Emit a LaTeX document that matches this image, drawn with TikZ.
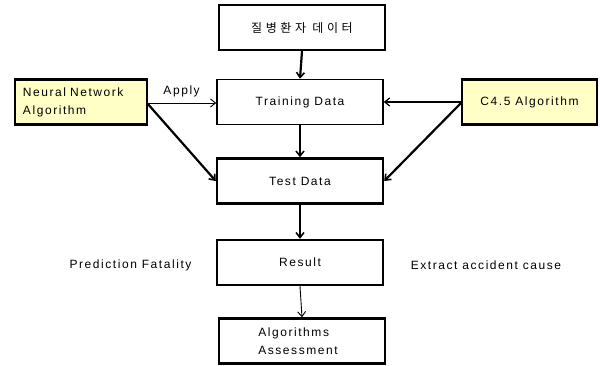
\documentclass[tikz,border=0pt]{standalone}
\usepackage{fontspec}
\setmainfont{Liberation Sans}[LetterSpace=13]
\newfontfamily\kor{Noto Sans CJK KR}[LetterSpace=30]
\usetikzlibrary{arrows.meta}
\definecolor{ylw}{HTML}{FFFFC6}
\tikzset{
  box/.style={draw, line width=2.4pt, minimum width=166pt, minimum height=45pt, inner sep=0pt, font=\fontsize{12}{18}\selectfont},
  thinbox/.style={box, line width=1.6pt},
  algbox/.style={box, fill=ylw},
  thick arr/.style={line width=2.2pt, -{Straight Barb[length=5pt,width=8pt,line width=1.6pt]}},
  thin arr/.style={line width=0.9pt, -{Straight Barb[length=5pt,width=8pt]}},
  lbl/.style={font=\fontsize{12}{14}\selectfont, inner sep=0pt},
}
\begin{document}
\begin{tikzpicture}[x=1pt,y=-1pt]
\useasboundingbox (0,0) rectangle (600,365);
\node[box] (data) at (302,27.5) {\kor 질병환자 데이터};
\node[thinbox] (train) at (300,102) {Training Data};
\node[box] (test) at (300,181) {Test Data};
\node[box] (result) at (300,262.5) {Result};
\node[box, align=left] (assess) at (302,341) {\hspace*{-8pt}Algorithms\\\hspace*{-8pt}Assessment};
\node[algbox, minimum width=132pt, align=left, text width=116pt] (nn) at (81,102) {Neural Network\\Algorithm};
\node[algbox, minimum width=135pt] (c45) at (529.5,102) {C4.5 Algorithm};
\node[lbl] (pf) at (130.5,265) {Prediction Fatality};
\node[lbl] (ex) at (486,265) {Extract accident cause};

\coordinate (nnr) at (147,103);
\coordinate (c4l) at (462,102);
\draw[thick arr] (data.south) -- (train.north);
\draw[thick arr] (train.south) -- (test.north);
\draw[thick arr] (test.south) -- (result.north);
\draw[thin arr] (result.south) -- (assess.north);
\draw[thin arr] (nnr) -- node[lbl, above=6pt] (apply) {Apply} (nnr -| train.west);
\draw[thick arr] (nnr) -- (test.west);
\draw[thin arr, line width=1.2pt] (c4l) -- (c4l -| train.east);
\draw[thick arr] (c4l) -- (test.east);
\end{tikzpicture}
\end{document}
